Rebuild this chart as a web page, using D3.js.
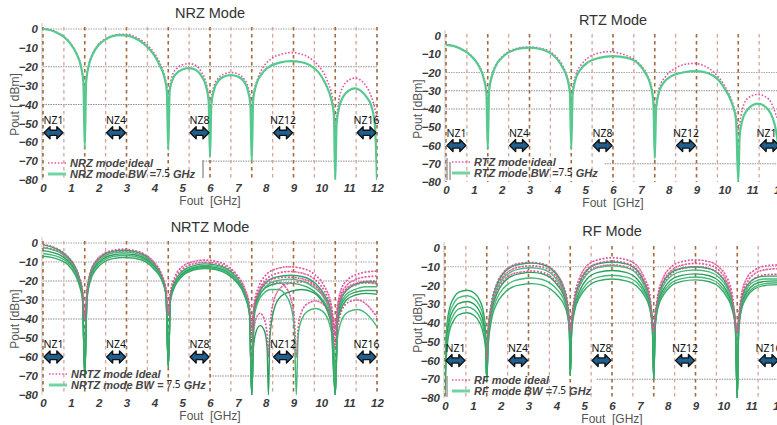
<!DOCTYPE html>
<html>
<head>
<meta charset="utf-8">
<script src="https://cdn.jsdelivr.net/npm/d3@7"></script>
<style>
  body { margin: 0; background: #fff; }
  svg { display: block; }
</style>
</head>
<body>
<svg id="chart" width="777" height="425"></svg>
<script>
// ---- axis ticks and reference grid ----
const freqTicks = [0, 1, 2, 3, 4, 5, 6, 7, 8, 9, 10, 11, 12];
const dbmTicks = [0, -10, -20, -30, -40, -50, -60, -70, -80];
const gridFreqs = [0, 0.75, 1.5, 2.25, 3, 3.75, 4.5, 5.25, 6, 6.75, 7.5, 8.25, 9, 9.75, 10.5, 11.25, 12];
const gridMajor = [0, 1.5, 3, 4.5, 6, 7.5, 9, 10.5, 12];

// ---- Nyquist zones marked with arrows (GHz) ----
const nzLabels = ["NZ1", "NZ4", "NZ8", "NZ12", "NZ16"];
const nzStart = [0, 2.25, 5.25, 8.25, 11.25];
const nzEnd = [0.75, 3, 6, 9, 12];

// ---- NRZ mode spectra [GHz, dBm] ----
const nrzIdeal = [[0,0.2],[0.25,-0.3],[0.5,-1.8],[0.75,-4],[1.0,-7.8],[1.2,-12.8],[1.35,-18.8],[1.45,-27],[1.5,-35],
  [1.55,-27],[1.65,-18.5],[1.8,-12.5],[2.0,-8],[2.25,-5.2],[2.5,-3.5],[2.75,-2.8],[3.0,-2.8],[3.25,-3.8],[3.5,-5.6],[3.75,-8.5],[4.0,-12.8],[4.2,-18],[4.35,-24],[4.45,-31],[4.5,-38],
  [4.55,-31],[4.65,-24.5],[4.8,-21],[5.0,-19],[5.25,-18.3],[5.5,-19.5],[5.7,-23],[5.85,-28],[5.95,-36],[6.0,-45],
  [6.05,-37],[6.15,-30],[6.3,-26],[6.5,-23.8],[6.75,-23],[7.0,-23.8],[7.2,-26],[7.35,-30],[7.45,-37],[7.5,-45],
  [7.55,-36],[7.7,-27],[7.9,-20.5],[8.2,-15.8],[8.6,-13.2],[8.9,-12.5],[9.2,-13],[9.6,-15.5],[9.9,-19.5],[10.2,-27],[10.4,-37],[10.5,-50],
  [10.55,-46],[10.65,-36],[10.8,-30],[11.0,-27],[11.2,-26],[11.4,-27],[11.6,-30],[11.8,-36],[11.95,-44],[12,-48]];
const nrzBw = [[0,0],[0.25,-0.5],[0.5,-2],[0.75,-4.2],[1.0,-8],[1.2,-13],[1.35,-19],[1.45,-28],[1.5,-63],
  [1.55,-28],[1.65,-19],[1.8,-13],[2.0,-8.5],[2.25,-5.5],[2.5,-3.8],[2.75,-3.2],[3.0,-3.4],[3.25,-4.5],[3.5,-6.5],[3.75,-9.5],[4.0,-14],[4.2,-19.5],[4.35,-25],[4.45,-33],[4.5,-64],
  [4.55,-33],[4.65,-27],[4.8,-23.5],[5.0,-21.5],[5.25,-20.7],[5.5,-21.8],[5.7,-25],[5.85,-30],[5.95,-38],[6.0,-68],
  [6.05,-40],[6.15,-32],[6.3,-27.5],[6.5,-25.2],[6.75,-24.4],[7.0,-25.2],[7.2,-27.5],[7.35,-32],[7.45,-40],[7.5,-70],
  [7.55,-38],[7.65,-30],[7.85,-24],[8.1,-20.3],[8.5,-17.8],[8.9,-17],[9.3,-17.6],[9.6,-19.3],[9.9,-23],[10.15,-29],[10.35,-37],[10.45,-45],[10.5,-80],
  [10.55,-50],[10.65,-41],[10.8,-35.5],[11.0,-32.5],[11.2,-31.5],[11.4,-32.5],[11.6,-35.5],[11.8,-41],[11.92,-50],[12,-80]];

// ---- RTZ mode spectra ----
const rtzIdeal = [[0,-4.7],[0.25,-5.2],[0.5,-6.6],[0.75,-8.8],[1.0,-12.3],[1.2,-16.8],[1.35,-22.5],[1.45,-30],[1.5,-38],
  [1.55,-29],[1.65,-21.5],[1.8,-15.5],[2.0,-11.6],[2.25,-8.6],[2.5,-7],[2.75,-6.2],[3.0,-6],[3.25,-6.3],[3.5,-7.1],[3.75,-8.8],[4.0,-12],[4.2,-16.5],[4.35,-22],[4.45,-29],[4.5,-36],
  [4.55,-29],[4.65,-22],[4.9,-15],[5.2,-11],[5.5,-9.3],[5.8,-8.6],[6.1,-9],[6.5,-10.8],[6.9,-14.5],[7.2,-20.5],[7.4,-29],[7.5,-42],
  [7.55,-38],[7.65,-29],[7.9,-22],[8.2,-18],[8.6,-15.5],[8.9,-15],[9.3,-16.5],[9.7,-21],[10.0,-27],[10.3,-37],[10.45,-46],[10.5,-52],
  [10.55,-48],[10.65,-40],[10.85,-34],[11.2,-32],[11.5,-33.5],[11.7,-37],[11.85,-43],[12,-50]];
const rtzBw = [[0,-4.9],[0.25,-5.4],[0.5,-6.8],[0.75,-9],[1.0,-12.5],[1.2,-17],[1.35,-23],[1.45,-31],[1.5,-62],
  [1.55,-30],[1.65,-22],[1.8,-16],[2.0,-12],[2.25,-9],[2.5,-7.4],[2.75,-6.6],[3.0,-6.4],[3.25,-6.7],[3.5,-7.6],[3.75,-9.4],[4.0,-12.8],[4.2,-17.5],[4.35,-23],[4.45,-31],[4.5,-62],
  [4.55,-32],[4.65,-24],[4.85,-18],[5.1,-14.5],[5.5,-12],[6.0,-11],[6.5,-12],[6.9,-15],[7.15,-20],[7.35,-27],[7.45,-36],[7.5,-67],
  [7.55,-40],[7.65,-31],[7.85,-25],[8.1,-22],[8.5,-20],[9.0,-19.2],[9.4,-20.3],[9.75,-23.5],[10.0,-28.5],[10.25,-36],[10.42,-46],[10.5,-80],
  [10.55,-55],[10.65,-46],[10.8,-41],[11.0,-38],[11.2,-37],[11.45,-38.5],[11.65,-42],[11.8,-48],[11.9,-56],[12,-70]];

// ---- NRTZ mode spectra (several settings) ----
const nrtzIdeal = [
  [[0,-0.8],[0.3,-1.8],[0.6,-3.8],[0.9,-7.3],[1.15,-12.3],[1.3,-17.8],[1.42,-25],[1.5,-40],[1.58,-25],[1.7,-15.5],[1.9,-9.5],[2.2,-5.5],[2.5,-3.9],[2.9,-3.3],[3.3,-4],[3.7,-6.4],[4.0,-10.2],[4.25,-16],[4.42,-25],[4.5,-38],
   [4.58,-26],[4.75,-17.5],[5.0,-12.5],[5.4,-9.8],[5.8,-9],[6.2,-9.6],[6.6,-11.8],[6.95,-16.5],[7.25,-24],[7.42,-33],[7.5,-45],
   [7.58,-33],[7.75,-23],[8.0,-17],[8.4,-13.5],[8.85,-12.5],[9.3,-13.3],[9.75,-16.5],[10.1,-22.5],[10.35,-32],[10.5,-45],
   [10.58,-33],[10.7,-25],[10.9,-20],[11.2,-17],[11.6,-15.3],[12,-14.8]],
  [[0,-2.3],[0.3,-3.1],[0.6,-4.8],[0.9,-8.3],[1.15,-13.3],[1.3,-18.8],[1.42,-26],[1.5,-40],[1.58,-26],[1.7,-16.5],[1.9,-10.5],[2.2,-6.6],[2.5,-4.9],[2.9,-4.3],[3.3,-4.9],[3.7,-7.4],[4.0,-11.3],[4.25,-17],[4.42,-25],[4.5,-38],
   [4.58,-27],[4.75,-19],[5.0,-14],[5.4,-11],[5.8,-10.2],[6.2,-10.7],[6.6,-12.8],[6.95,-17.3],[7.25,-25],[7.42,-34],[7.5,-45],
   [7.58,-35],[7.75,-25.5],[8.0,-19.5],[8.4,-16],[8.85,-15],[9.3,-15.8],[9.75,-19],[10.1,-25],[10.35,-34],[10.5,-45],
   [10.58,-35],[10.7,-27.5],[10.9,-22.5],[11.2,-19.5],[11.6,-17.8],[12,-17.5]],
  [[7.5,-60],[7.56,-48],[7.65,-40],[7.8,-37],[7.95,-40],[8.05,-48],[8.1,-60],[8.15,-45],[8.3,-30],[8.55,-23.5],[8.9,-21],[9.3,-20.5],[9.7,-22],[10.0,-26],[10.25,-33],[10.42,-42],[10.5,-50],
   [10.58,-38],[10.7,-30],[10.9,-25],[11.2,-22],[11.6,-21],[12,-21.5]],
  [[7.5,-50],[7.58,-36],[7.7,-28],[7.9,-23],[8.2,-20.5],[8.45,-20.5],[8.7,-23],[8.9,-29],[9.03,-40],[9.1,-60],[9.17,-44],[9.3,-36],[9.5,-32],[9.8,-30.5],[10.05,-32],[10.3,-39],[10.45,-50],[10.5,-55],
   [10.58,-45],[10.75,-35],[11.0,-31],[11.3,-30],[11.6,-32],[11.85,-36],[12,-39]],
  [[7.5,-48],[7.58,-35],[7.75,-26],[8.0,-20.5],[8.4,-18.5],[8.8,-18],[9.3,-18.8],[9.75,-22],[10.1,-28],[10.35,-37],[10.5,-48],
   [10.58,-36],[10.7,-28.5],[10.9,-24],[11.2,-21.5],[11.6,-20.2],[12,-20]]
];
const nrtzBw = [
  [[0,-1],[0.3,-2],[0.6,-4],[0.9,-7.5],[1.15,-12.5],[1.3,-18],[1.42,-26],[1.5,-70],[1.58,-26],[1.7,-16],[1.9,-10],[2.2,-6],[2.5,-4.4],[2.9,-3.8],[3.3,-4.5],[3.7,-7],[4.0,-11],[4.25,-17],[4.42,-26],[4.5,-65],
   [4.58,-28],[4.75,-20],[5.0,-15],[5.4,-12],[5.8,-11],[6.2,-11.5],[6.6,-13.5],[6.95,-18],[7.25,-26],[7.42,-36],[7.5,-80],
   [7.58,-36],[7.75,-27],[8.0,-21],[8.4,-17.8],[8.9,-17],[9.4,-18],[9.8,-21.5],[10.1,-27],[10.35,-36],[10.5,-80],
   [10.58,-38],[10.7,-30],[10.9,-25],[11.2,-22],[11.6,-20.5],[12,-20.5]],
  [[0,-2.5],[0.3,-3.3],[0.6,-5],[0.9,-8.5],[1.15,-13.5],[1.3,-19],[1.42,-27],[1.5,-70],[1.58,-27],[1.7,-17],[1.9,-11],[2.2,-7],[2.5,-5.3],[2.9,-4.7],[3.3,-5.3],[3.7,-7.8],[4.0,-11.8],[4.25,-17.5],[4.42,-26],[4.5,-65],
   [4.58,-29],[4.75,-21],[5.0,-16],[5.4,-12.8],[5.8,-11.8],[6.2,-12.2],[6.6,-14.2],[6.95,-18.5],[7.25,-26],[7.42,-36],[7.5,-80],
   [7.58,-38],[7.75,-29],[8.0,-23],[8.4,-19.8],[8.85,-19],[9.3,-20],[9.75,-23.5],[10.1,-29],[10.35,-38],[10.5,-80],
   [10.58,-40],[10.7,-32],[10.9,-27],[11.2,-24.5],[11.6,-23],[12,-23]],
  [[0,-4],[0.3,-4.8],[0.6,-6.3],[0.9,-9.5],[1.15,-14.5],[1.3,-20],[1.42,-28],[1.5,-70],[1.58,-28],[1.7,-18],[1.9,-12],[2.2,-8],[2.5,-6.3],[2.9,-5.7],[3.3,-6.2],[3.7,-8.6],[4.0,-12.5],[4.25,-18],[4.42,-27],[4.5,-65],
   [4.58,-29],[4.75,-21.5],[5.0,-16.5],[5.4,-13.3],[5.8,-12.4],[6.2,-13],[6.6,-15],[6.95,-19.5],[7.25,-27],[7.42,-37],[7.5,-80],
   [7.56,-55],[7.65,-47],[7.8,-43.5],[7.95,-46],[8.05,-55],[8.1,-80],[8.15,-50],[8.3,-35],[8.55,-28],[8.9,-25.5],[9.3,-24.5],[9.7,-26],[10.0,-30],[10.25,-37],[10.42,-48],[10.5,-80],
   [10.58,-42],[10.7,-35],[10.9,-30],[11.2,-27.5],[11.6,-26.5],[12,-27]],
  [[0,-5.5],[0.3,-6.2],[0.6,-7.6],[0.9,-10.5],[1.15,-15.5],[1.3,-21],[1.42,-29],[1.5,-70],[1.58,-29],[1.7,-19],[1.9,-13],[2.2,-9],[2.5,-7.2],[2.9,-6.6],[3.3,-7],[3.7,-9.3],[4.0,-13.2],[4.25,-18.5],[4.42,-27],[4.5,-65],
   [4.58,-30],[4.75,-22],[5.0,-17],[5.4,-13.8],[5.8,-12.9],[6.2,-13.5],[6.6,-15.6],[6.95,-20],[7.25,-27.5],[7.42,-37],[7.5,-80],
   [7.58,-40],[7.7,-32],[7.9,-27],[8.2,-24.5],[8.45,-24.5],[8.7,-27],[8.9,-33],[9.03,-45],[9.1,-80],[9.17,-48],[9.3,-40],[9.5,-36],[9.8,-34.5],[10.05,-36],[10.3,-43],[10.45,-55],[10.5,-80],
   [10.58,-50],[10.75,-40],[11.0,-36],[11.3,-35],[11.6,-37],[11.85,-41],[12,-44]],
  [[0,-7],[0.3,-7.6],[0.6,-8.9],[0.9,-11.5],[1.15,-16.5],[1.3,-22],[1.42,-30],[1.5,-70],[1.58,-30],[1.7,-20],[1.9,-14],[2.2,-10],[2.5,-8.2],[2.9,-7.6],[3.3,-8],[3.7,-10],[4.0,-14],[4.25,-19],[4.42,-27.5],[4.5,-65],
   [4.58,-30],[4.75,-22.5],[5.0,-17.5],[5.4,-14.3],[5.8,-13.4],[6.2,-14],[6.6,-16.2],[6.95,-20.5],[7.25,-28],[7.42,-38],[7.5,-80],
   [7.58,-37],[7.75,-28],[8.0,-23.5],[8.4,-21.3],[8.75,-21],[9.2,-21.8],[9.7,-25],[10.05,-30],[10.33,-39],[10.5,-80],
   [10.58,-41],[10.7,-33],[10.9,-28.5],[11.2,-26],[11.6,-25],[12,-25]]
];

// ---- RF mode spectra (several settings) ----
const rfIdeal = [
  [[1.5,-60],[1.55,-44],[1.65,-31],[1.85,-19.5],[2.1,-13],[2.4,-9.5],[2.75,-8],[3.1,-7.7],[3.5,-8.4],[3.8,-10.5],[4.05,-14.5],[4.25,-20],[4.4,-29],[4.5,-45],
   [4.55,-38],[4.65,-26],[4.85,-15.5],[5.1,-9.5],[5.5,-6.3],[6.0,-5.2],[6.5,-6.2],[6.9,-9.5],[7.15,-15.5],[7.35,-24],[7.5,-45],
   [7.55,-36],[7.65,-25],[7.85,-15.5],[8.1,-10.5],[8.5,-7.3],[9.0,-6.4],[9.5,-7.3],[9.85,-10.3],[10.1,-15],[10.3,-23],[10.5,-45],
   [10.55,-37],[10.65,-25],[10.85,-16],[11.1,-12],[11.5,-9.6],[12,-9]],
  [[1.5,-60],[1.55,-45],[1.65,-33],[1.85,-21.5],[2.1,-15],[2.4,-11.5],[2.75,-10],[3.1,-9.5],[3.5,-10.2],[3.8,-12.4],[4.05,-16.3],[4.25,-22],[4.4,-30],[4.5,-45],
   [4.55,-39],[4.65,-28],[4.85,-17.5],[5.1,-11.5],[5.5,-8.1],[6.0,-7],[6.5,-8],[6.9,-11.5],[7.15,-17.5],[7.35,-26],[7.5,-45],
   [7.55,-37],[7.65,-26.5],[7.85,-17.5],[8.1,-12.5],[8.5,-9.2],[9.0,-8.2],[9.5,-9.1],[9.85,-12],[10.1,-17],[10.3,-25],[10.5,-45],
   [10.55,-38],[10.65,-27],[10.85,-18.5],[11.1,-14],[11.5,-11.6],[12,-11]],
  [[1.5,-60],[1.55,-47],[1.65,-35],[1.85,-24],[2.1,-17.5],[2.4,-14],[2.75,-12.8],[3.1,-12.3],[3.5,-13],[3.8,-15.2],[4.05,-19],[4.25,-24],[4.4,-31],[4.5,-45],
   [4.55,-40],[4.65,-29],[4.85,-19.5],[5.1,-13.5],[5.5,-10],[6.0,-9],[6.5,-10],[6.9,-13.5],[7.15,-19],[7.35,-27],[7.5,-45],
   [7.55,-38],[7.65,-27.5],[7.85,-19],[8.1,-14.2],[8.5,-11],[9.0,-10.2],[9.5,-11],[9.85,-14],[10.1,-18.8],[10.3,-26.5],[10.5,-45],
   [10.55,-40],[10.65,-29],[10.85,-21],[11.1,-16.5],[11.5,-14.3],[12,-14]]
];
const rfBw = [
  [[0,-62],[0.05,-45],[0.15,-33],[0.3,-27],[0.5,-23.5],[0.8,-22.5],[1.05,-24],[1.25,-28],[1.38,-34],[1.46,-45],[1.5,-70],
   [1.55,-45],[1.65,-32],[1.85,-20],[2.1,-13.5],[2.4,-10],[2.75,-8.5],[3.1,-8],[3.5,-8.8],[3.8,-11],[4.05,-15],[4.25,-21],[4.4,-30],[4.47,-40],[4.5,-68],
   [4.55,-40],[4.65,-28],[4.85,-18],[5.1,-12],[5.5,-8.5],[6.0,-7.5],[6.5,-8.5],[6.9,-12],[7.15,-18],[7.35,-27],[7.45,-38],[7.5,-70],
   [7.55,-38],[7.65,-27],[7.85,-18],[8.1,-13.5],[8.5,-10.8],[9.0,-10],[9.5,-11],[9.85,-14],[10.1,-19],[10.3,-27],[10.43,-38],[10.5,-80],
   [10.55,-40],[10.65,-28],[10.85,-20],[11.1,-16.5],[11.5,-15],[12,-15]],
  [[0,-66],[0.05,-48],[0.15,-36],[0.3,-30],[0.5,-26.5],[0.8,-25.5],[1.05,-27],[1.25,-31],[1.38,-37],[1.46,-48],[1.5,-70],
   [1.55,-47],[1.65,-34],[1.85,-22.5],[2.1,-16],[2.4,-12.5],[2.75,-11],[3.1,-10.5],[3.5,-11.3],[3.8,-13.5],[4.05,-17.5],[4.25,-23],[4.4,-32],[4.47,-42],[4.5,-68],
   [4.55,-42],[4.65,-30],[4.85,-20],[5.1,-14],[5.5,-10.5],[6.0,-9.5],[6.5,-10.5],[6.9,-14],[7.15,-20],[7.35,-29],[7.45,-40],[7.5,-70],
   [7.55,-40],[7.65,-29],[7.85,-20],[8.1,-15.3],[8.5,-12.5],[9.0,-11.7],[9.5,-12.7],[9.85,-15.7],[10.1,-20.5],[10.3,-28.5],[10.43,-39],[10.5,-80],
   [10.55,-42],[10.65,-30],[10.85,-22],[11.1,-18],[11.5,-16.5],[12,-16.5]],
  [[0,-70],[0.05,-52],[0.15,-39],[0.3,-33],[0.5,-29.5],[0.8,-28.5],[1.05,-30],[1.25,-34],[1.38,-40],[1.46,-50],[1.5,-70],
   [1.55,-49],[1.65,-36],[1.85,-25],[2.1,-18.5],[2.4,-15],[2.75,-13.5],[3.1,-13],[3.5,-13.8],[3.8,-16],[4.05,-20],[4.25,-25],[4.4,-33],[4.47,-43],[4.5,-68],
   [4.55,-43],[4.65,-32],[4.85,-22.5],[5.1,-16.5],[5.5,-13],[6.0,-12],[6.5,-13],[6.9,-16.5],[7.15,-22],[7.35,-30],[7.45,-41],[7.5,-70],
   [7.55,-41],[7.65,-30],[7.85,-22],[8.1,-17.3],[8.5,-14.6],[9.0,-13.8],[9.5,-14.8],[9.85,-17.7],[10.1,-22.5],[10.3,-30],[10.43,-40],[10.5,-80],
   [10.55,-43],[10.65,-31],[10.85,-23.5],[11.1,-19.5],[11.5,-17.8],[12,-17.5]],
  [[0,-74],[0.05,-55],[0.15,-42],[0.3,-36],[0.5,-32.5],[0.8,-31.5],[1.05,-33],[1.25,-37],[1.38,-43],[1.46,-52],[1.5,-70],
   [1.55,-51],[1.65,-38],[1.85,-27.5],[2.1,-21.5],[2.4,-18],[2.75,-16.5],[3.1,-16],[3.5,-16.8],[3.8,-19],[4.05,-22.5],[4.25,-27],[4.4,-35],[4.47,-44],[4.5,-68],
   [4.55,-44],[4.65,-33],[4.85,-24.5],[5.1,-19],[5.5,-15.5],[6.0,-14.5],[6.5,-15.5],[6.9,-18.5],[7.15,-23.5],[7.35,-31],[7.45,-42],[7.5,-70],
   [7.55,-42],[7.65,-31],[7.85,-23.5],[8.1,-19],[8.5,-16.3],[9.0,-15.5],[9.5,-16.5],[9.85,-19.3],[10.1,-24],[10.3,-31],[10.43,-41],[10.5,-80],
   [10.55,-44],[10.65,-32],[10.85,-25],[11.1,-21],[11.5,-19],[12,-18.5]],
  [[0,-78],[0.05,-58],[0.15,-45],[0.3,-39],[0.5,-35.5],[0.8,-34.5],[1.05,-36],[1.25,-40],[1.38,-46],[1.46,-54],[1.5,-70],
   [1.55,-53],[1.65,-40],[1.85,-30],[2.1,-24.5],[2.4,-21],[2.75,-19.5],[3.1,-19],[3.5,-19.8],[3.8,-22],[4.05,-25.5],[4.25,-29.5],[4.4,-36],[4.47,-45],[4.5,-68],
   [4.55,-45],[4.65,-34],[4.85,-26],[5.1,-21],[5.5,-17.5],[6.0,-16.5],[6.5,-17.5],[6.9,-20.5],[7.15,-25],[7.35,-32],[7.45,-43],[7.5,-70],
   [7.55,-43],[7.65,-32],[7.85,-25],[8.1,-20.5],[8.5,-17.8],[9.0,-17],[9.5,-18],[9.85,-20.8],[10.1,-25.5],[10.3,-32],[10.43,-42],[10.5,-80],
   [10.55,-45],[10.65,-33],[10.85,-26],[11.1,-22],[11.5,-20],[12,-19.5]]
];

// ---- panel layout ----
const panels = [
  { title: "NRZ Mode", ideal: [nrzIdeal], bw: [nrzBw], idealText: "NRZ mode ideal", bwText: "NRZ mode BW =",
    x0: 43, x1: 377, yTop: 29, yBot: 180, titleX: 210, titleY: 18, yLabel: "Pout [ dBm]", yLabelX: 15,
    nzDb: -55, grid: [0, -20, -40], gridDark: [-20, -40], partialFrom: 5.75,
    legX: 48, legY: 163, legGap: 11, bars: [[203, 160, 203, 178]], thick: true },
  { title: "RTZ Mode", ideal: [rtzIdeal], bw: [rtzBw], idealText: "RTZ mode ideal", bwText: "RTZ mode BW =",
    x0: 446, x1: 780, yTop: 36, yBot: 182, titleX: 613, titleY: 25, yLabel: "Pout [dBm]", yLabelX: 418,
    nzDb: -60, grid: [-20, -30, -40], gridDark: [-30, -40], partialFrom: 5.7,
    legX: 452, legY: 162, legGap: 11, bars: [[447, 158, 447, 180], [450, 162, 450, 180]], thick: true },
  { title: "NRTZ Mode", ideal: nrtzIdeal, bw: nrtzBw, idealText: "NRTZ mode Ideal", bwText: "NRTZ mode BW = ",
    x0: 43, x1: 377, yTop: 243, yBot: 395, titleX: 210, titleY: 232, yLabel: "Pout [dBm]", yLabelX: 15,
    nzDb: -60, grid: [0, -10, -20, -30, -40], gridDark: [-20, -40], partialFrom: 6.0,
    legX: 49, legY: 374, legGap: 11, bars: [], thick: false },
  { title: "RF Mode", ideal: rfIdeal, bw: rfBw, idealText: "RF mode ideal", bwText: "RF mode BW =",
    x0: 445, x1: 779, yTop: 248, yBot: 398, titleX: 612, titleY: 236, yLabel: "Pout [dBm]", yLabelX: 418,
    nzDb: -60, grid: [-10, -40], gridDark: [-40], partialFrom: 5.45,
    legX: 452, legY: 380, legGap: 11, bars: [[447, 376, 447, 397]], thick: false }
];

const svg = d3.select("#chart");
const tickFont = "'Liberation Sans', Arial, sans-serif";

panels.forEach((p, pi) => {
  const x = d3.scaleLinear().domain([0, 12]).range([p.x0, p.x1]);
  const y = d3.scaleLinear().domain([-80, 0]).range([p.yBot, p.yTop]);
  const g = svg.append("g");

  const clipId = "clip" + pi;
  svg.append("clipPath").attr("id", clipId).append("rect")
    .attr("x", p.x0).attr("y", p.yTop - 4).attr("width", p.x1 - p.x0).attr("height", p.yBot - p.yTop + 4);

  // title
  g.append("text").attr("x", p.titleX).attr("y", p.titleY).attr("text-anchor", "middle")
    .attr("font-family", tickFont).attr("font-size", 14.5).attr("fill", "#333").text(p.title);

  // left axis rule
  g.append("line").attr("x1", p.x0 - 1).attr("x2", p.x0 - 1).attr("y1", p.yTop - 6).attr("y2", p.yBot)
    .attr("stroke", "#c4c4c4").attr("stroke-width", 1);

  // horizontal grid
  g.selectAll("line.hgrid").data(p.grid).join("line").attr("class", "hgrid")
    .attr("x1", p.x0).attr("x2", p.x1).attr("y1", d => y(d)).attr("y2", d => y(d))
    .attr("stroke", d => p.gridDark.includes(d) ? "#8f8f8f" : "#a8a8a8")
    .attr("stroke-width", 1).attr("stroke-dasharray", "1.5,1");
  g.append("line").attr("x1", x(p.partialFrom)).attr("x2", p.x1).attr("y1", y(-70)).attr("y2", y(-70))
    .attr("stroke", "#8f8f8f").attr("stroke-width", 1).attr("stroke-dasharray", "1.5,1");

  // vertical dashed grid
  g.selectAll("line.vgrid").data(gridFreqs).join("line").attr("class", "vgrid")
    .attr("x1", d => x(d)).attr("x2", d => x(d)).attr("y1", p.yTop - 2).attr("y2", p.yBot)
    .attr("stroke", d => gridMajor.includes(d) ? "#a5683f" : "#d6a49a")
    .attr("stroke-width", d => gridMajor.includes(d) ? 1.6 : 1.3)
    .attr("stroke-dasharray", "3.5,3.5");

  // legend box edges
  p.bars.forEach(b => g.append("line").attr("x1", b[0]).attr("y1", b[1]).attr("x2", b[2]).attr("y2", b[3])
    .attr("stroke", "#a0a0a0").attr("stroke-width", 1.6));

  // curves
  const line = d3.line().x(d => x(d[0])).y(d => y(Math.max(-80, d[1]))).curve(d3.curveMonotoneX);
  const curves = g.append("g").attr("clip-path", `url(#${clipId})`);
  const greens = p.thick ? ["#55c98e"] : ["#2ea862", "#49bb7c", "#2a9f5c", "#46b878", "#33aa66"];
  curves.selectAll("path.ideal").data(p.ideal).join("path").attr("class", "ideal")
    .attr("d", line).attr("fill", "none").attr("stroke", "#e0559d")
    .attr("stroke-width", 1.6).attr("stroke-dasharray", "1.6,1.8");
  curves.selectAll("path.bw").data(p.bw).join("path").attr("class", "bw")
    .attr("d", line).attr("fill", "none")
    .attr("stroke", (d, i) => greens[i % greens.length])
    .attr("stroke-width", p.thick ? 2.2 : 1.4);
  if (!p.thick) {
    curves.selectAll("path.idealTop").data(p.ideal).join("path").attr("class", "idealTop")
      .attr("d", line).attr("fill", "none").attr("stroke", "#e0559d")
      .attr("stroke-width", 1.4).attr("stroke-dasharray", "1.4,2.2").attr("opacity", 0.8);
  }

  // axes
  const yAxis = d3.axisLeft(y).tickValues(dbmTicks).tickSize(0).tickPadding(5).tickFormat(d3.format("d"));
  const xAxis = d3.axisBottom(x).tickValues(freqTicks).tickSize(0).tickPadding(4).tickFormat(d3.format("d"));
  [g.append("g").attr("transform", `translate(${p.x0},0)`).call(yAxis),
   g.append("g").attr("transform", `translate(0,${p.yBot})`).call(xAxis)].forEach(a => {
    a.select(".domain").remove();
    a.selectAll("text").attr("font-family", tickFont).attr("font-size", 11.5)
      .attr("font-weight", "bold").attr("font-style", "italic").attr("fill", "#3a3a3a");
  });

  // axis titles
  g.append("text").attr("transform", `translate(${p.yLabelX},${(p.yTop + p.yBot) / 2}) rotate(-90)`)
    .attr("text-anchor", "middle").attr("dy", "0.35em")
    .attr("font-family", tickFont).attr("font-size", 12).attr("fill", "#555").text(p.yLabel);
  g.append("text").attr("x", x(6)).attr("y", p.yBot + 25).attr("text-anchor", "middle")
    .attr("font-family", tickFont).attr("font-size", 12).attr("fill", "#555").text("Fout\u00a0 [GHz]");

  // Nyquist-zone arrows
  const cy = y(p.nzDb);
  nzLabels.forEach((lab, i) => {
    const a = x(nzStart[i]) + 1, b = x(nzEnd[i]) - 1;
    const hl = 6, hh = 6, sh = 2.6;
    const pts = [[a, cy], [a + hl, cy - hh], [a + hl, cy - sh], [b - hl, cy - sh], [b - hl, cy - hh], [b, cy],
                 [b - hl, cy + hh], [b - hl, cy + sh], [a + hl, cy + sh], [a + hl, cy + hh]];
    g.append("path").attr("d", "M" + pts.map(q => q.join(",")).join("L") + "Z")
      .attr("fill", "#1f5f90").attr("stroke", "#111").attr("stroke-width", 1.4).attr("stroke-linejoin", "round");
    g.append("text").attr("x", (a + b) / 2).attr("y", cy - 9).attr("text-anchor", "middle")
      .attr("font-family", "'Noto Sans', 'Open Sans', sans-serif").attr("font-size", 10.5).attr("fill", "#111").text(lab);
  });

  // legend
  const lx = p.legX, ly = p.legY;
  g.append("line").attr("x1", lx).attr("x2", lx + 18).attr("y1", ly).attr("y2", ly)
    .attr("stroke", "#e0559d").attr("stroke-width", 1.4).attr("stroke-dasharray", "1.5,1.8");
  g.append("line").attr("x1", lx).attr("x2", lx + 18).attr("y1", ly + p.legGap).attr("y2", ly + p.legGap)
    .attr("stroke", "#72d4a2").attr("stroke-width", 3);
  const lt = (yy) => g.append("text").attr("x", lx + 22).attr("y", yy)
    .attr("font-family", tickFont).attr("font-size", 11).attr("font-weight", "bold")
    .attr("font-style", "italic").attr("fill", "#454545");
  lt(ly + 4).text(p.idealText);
  const t2 = lt(ly + p.legGap + 4);
  t2.append("tspan").text(p.bwText);
  t2.append("tspan").attr("font-weight", "normal").attr("font-style", "normal").attr("fill", "#222")
    .attr("font-family", "'Noto Sans', sans-serif").attr("font-size", 10).attr("dy", -1).text("7.5");
  t2.append("tspan").attr("dy", 1).text(" GHz");
});
</script>
</body>
</html>
